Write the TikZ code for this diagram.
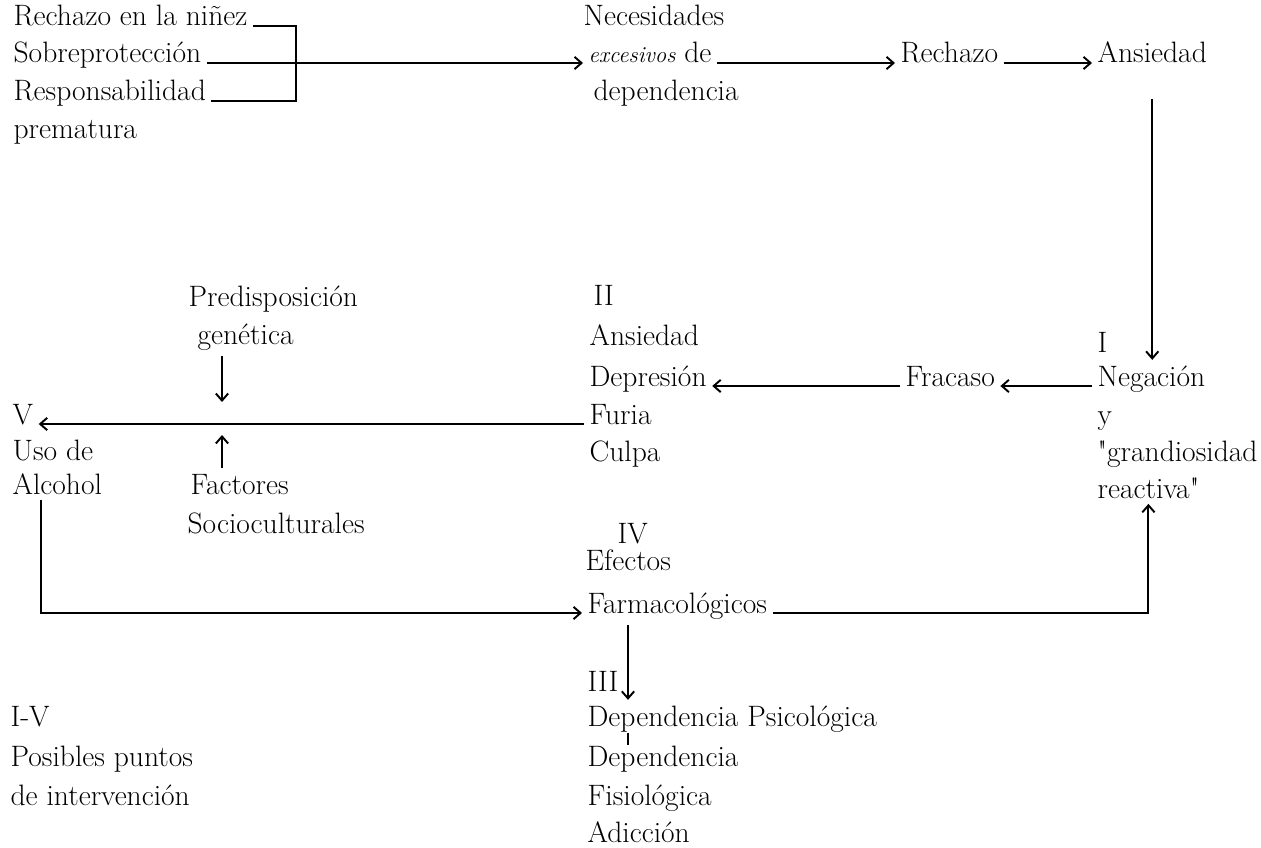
\documentclass[tikz,border=0pt]{standalone}
\usepackage{tikz}
\usetikzlibrary{arrows.meta}
\tikzset{
  txt/.style={anchor=base west, inner sep=3pt, font=\fontsize{16.8}{19}\selectfont},
  flecha/.style={-{Straight Barb[length=4pt,width=7pt]}, line width=1.1pt},
  linea/.style={line width=1.1pt},
}

\begin{document}
\begin{tikzpicture}[x=0.02cm, y=-0.02cm]
    \useasboundingbox (0,0) rectangle (1261,848);
    \node[txt] (RechazoNinez) at (8,26) {Rechazo en la niñez};
    \node[txt] (Sobreproteccion) at (8,63) {Sobreprotección};
    \node[txt] (Responsabilidad) at (8,101) {Responsabilidad};
    \node[txt] (Prematura) at (8,138) {prematura};
    \node[txt] (Necesidades) at (578,26) {Necesidades};
    \node[txt] (Excesivos) at (583,63) {{\fontsize{13}{15}\selectfont\itshape excesivos} de};
    \node[txt] (DependenciaA) at (588,101) {dependencia};
    \node[txt] (RechazoB) at (895,63) {Rechazo};
    \node[txt] (AnsiedadA) at (1092,63) {Ansiedad};
    \node[txt] (NumI) at (1092,352) {I};
    \node[txt] (Negacion) at (1092,386) {Negación};
    \node[txt] (LetraY) at (1092,424) {y};
    \node[txt] (Grandiosidad) at (1092,461) {\textquotedbl grandiosidad};
    \node[txt] (Reactiva) at (1092,498) {reactiva\textquotedbl};
    \node[txt] (Fracaso) at (900,386) {Fracaso};
    \node[txt] (NumII) at (588,305) {II};
    \node[txt] (AnsiedadB) at (584,345) {Ansiedad};
    \node[txt] (Depresion) at (584,386) {Depresión};
    \node[txt] (Furia) at (584,424) {Furia};
    \node[txt] (Culpa) at (584,461) {Culpa};
    \node[txt] (NumV) at (7,424) {V};
    \node[txt] (UsoDe) at (7,460) {Uso de};
    \node[txt] (Alcohol) at (7,494) {Alcohol};
    \node[txt] (Predisposicion) at (183,306) {Predisposición};
    \node[txt] (Genetica) at (192,344) {genética};
    \node[txt] (Factores) at (185,494) {Factores};
    \node[txt] (Socioculturales) at (182,533) {Socioculturales};
    \node[txt] (NumIV) at (612,543) {IV};
    \node[txt] (Efectos) at (580,570) {Efectos};
    \node[txt] (Farmacologicos) at (582,613) {Farmacológicos};
    \node[txt] (NumIII) at (582,691) {III};
    \node[txt] (DepPsicologica) at (582,726) {Dependencia Psicológica};
    \node[txt] (DepFisiologica) at (582,766) {Dependencia};
    \node[txt] (Fisiologica) at (582,805) {Fisiológica};
    \node[txt] (Adiccion) at (582,842) {Adicción};
    \node[txt] (NumIaV) at (5,726) {I-V};
    \node[txt] (Posibles) at (5,766) {Posibles puntos};
    \node[txt] (Intervencion) at (5,805) {de intervención};

    \coordinate (Corchete) at (296,63);
    \coordinate (Cruce) at (222,424);

    \draw[linea] (RechazoNinez.base east) -| (Corchete) |- (Responsabilidad.base east);
    \draw[flecha] (Sobreproteccion.base east) -- (Excesivos.base west);
    \draw[flecha] (Excesivos.base east) -- (RechazoB.base west);
    \draw[flecha] (RechazoB.base east) -- (AnsiedadA.base west);
    \draw[flecha, shorten <=0.6cm] (AnsiedadA.south) -- (AnsiedadA.south |- Negacion.north);
    \draw[flecha] (Negacion.base west) -- (Fracaso.base east);
    \draw[flecha] (Fracaso.base west) -- (Depresion.base east);
    \draw[flecha] (Furia.base west) -- (NumV.base east);
    \draw[flecha, shorten >=0.44cm] (Genetica.south -| Cruce) -- (Cruce);
    \draw[flecha, shorten >=0.22cm] (Factores.north -| Cruce) -- (Cruce);
    \draw[flecha] ([xshift=0.68cm]Alcohol.south west) |- (Farmacologicos.base west);
    \draw[flecha] (Farmacologicos.base east) -| (Reactiva.south);
    \draw[flecha] ([xshift=0.92cm]Farmacologicos.south west) -- ([xshift=0.92cm]DepPsicologica.north west);
    \draw[linea, shorten <=-0.1cm, shorten >=-0.1cm] ([xshift=0.92cm]DepPsicologica.south west) -- ([xshift=0.92cm]DepFisiologica.north west);
\end{tikzpicture}
\end{document}
